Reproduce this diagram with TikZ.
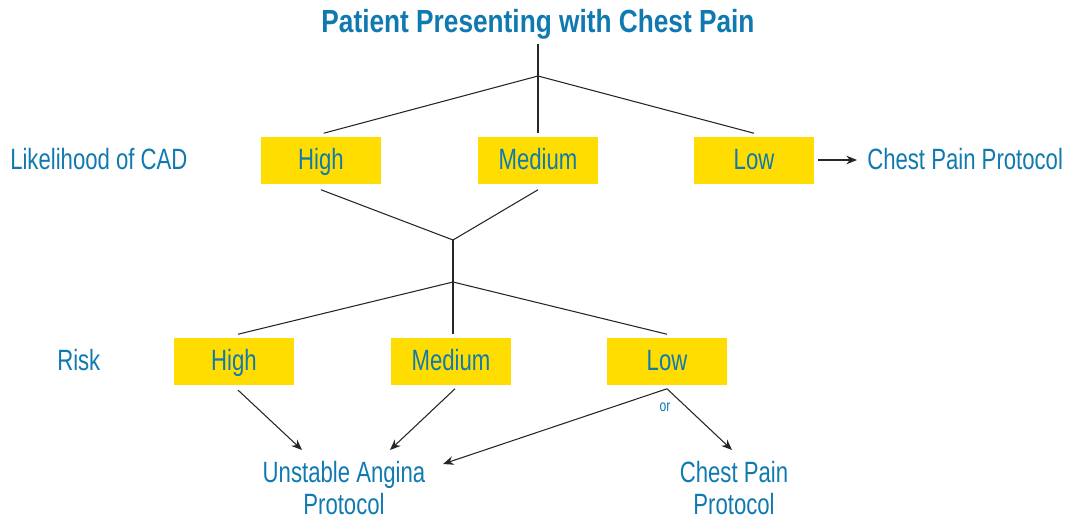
\documentclass[tikz,border=0pt]{standalone}
\usepackage{fontspec}
\setmainfont{Liberation Sans}[FakeStretch=0.755]
\newfontfamily\titlefont{Liberation Sans}[FakeStretch=0.82]
\usetikzlibrary{arrows.meta}

\definecolor{cadblue}{RGB}{16,122,176}
\definecolor{cadyellow}{RGB}{255,221,0}

\begin{document}
\begin{tikzpicture}[x=0.75pt,y=-0.75pt,
    txt/.style={text=cadblue,inner sep=0pt,font=\fontsize{22}{24}\selectfont,
        text height=19pt,text depth=4.6pt},
    ybox/.style={txt,fill=cadyellow,minimum width=90pt,minimum height=35.25pt},
    outcome/.style={text=cadblue,inner sep=0pt,align=center,font=\fontsize{22}{24}\selectfont},
    conn/.style={black!85,line width=0.8pt},
    trunk/.style={black!85,line width=1.4pt},
    arr/.style={conn,-{Stealth[length=8pt,width=6.5pt]}}]
    \useasboundingbox (0,0) rectangle (1075,521);

    % Title
    \node[text=cadblue,inner sep=0pt,font=\fontsize{24}{28}\selectfont\titlefont\bfseries]
        (title) at (538,24) {Patient Presenting with Chest Pain};

    % Likelihood of CAD
    \node[txt,anchor=west] (lkh) at (10,160) {Likelihood of CAD};
    \node[ybox] (ch) at (321,160) {High};
    \node[ybox] (cm) at (538,160) {Medium};
    \node[ybox] (cl) at (754,160) {Low};
    \node[txt,anchor=west] (cpp) at (867,160) {Chest Pain Protocol};

    % Risk
    \node[txt,anchor=west] (risk) at (57,361) {Risk};
    \node[ybox] (rh) at (234,361) {High};
    \node[ybox] (rm) at (451,361) {Medium};
    \node[ybox] (rl) at (667,361) {Low};

    % Outcomes
    \node[outcome] (ua) at (344,488) {Unstable Angina\\Protocol};
    \node[outcome] (cp) at (734,488) {Chest Pain\\Protocol};
    \node[text=cadblue,inner sep=0pt,font=\fontsize{12}{14}\selectfont] (or) at (665,407) {or};

    % Junctions and arrow ends
    \coordinate (j1) at (538,76);
    \coordinate (j2) at (453,240);
    \coordinate (j3) at (453,282);
    \coordinate (uaL) at (302,450);
    \coordinate (uaM) at (390,450);
    \coordinate (uaR) at (443,464);
    \coordinate (cpT) at (732,450);

    % Tree, top part
    \draw[trunk,shorten <=3.5pt,shorten >=2.25pt] (title.south) -- (cm.north);
    \draw[conn] (j1) -- ([yshift=2.25pt,xshift=2pt]ch.north);
    \draw[conn] (j1) -- ([yshift=2.25pt]cl.north);
    \draw[arr,shorten <=3pt,shorten >=7.5pt] (cl.east) -- (cpp.west);

    % Tree, middle part
    \draw[conn] ([yshift=-4.5pt]ch.south) -- (j2);
    \draw[conn] ([yshift=-4.5pt]cm.south) -- (j2);
    \draw[trunk,shorten >=2.25pt] (j2) -- (j2 |- rm.north);
    \draw[conn] (j3) -- ([yshift=2.25pt,xshift=3pt]rh.north);
    \draw[conn] (j3) -- ([yshift=2.25pt]rl.north);

    % Arrows to protocols
    \draw[arr] ([yshift=-4pt,xshift=3pt]rh.south) -- (uaL);
    \draw[arr] ([yshift=-3pt,xshift=3pt]rm.south) -- (uaM);
    \draw[arr] ([yshift=-3pt]rl.south) -- (uaR);
    \draw[arr] ([yshift=-3pt]rl.south) -- (cpT);
\end{tikzpicture}
\end{document}
